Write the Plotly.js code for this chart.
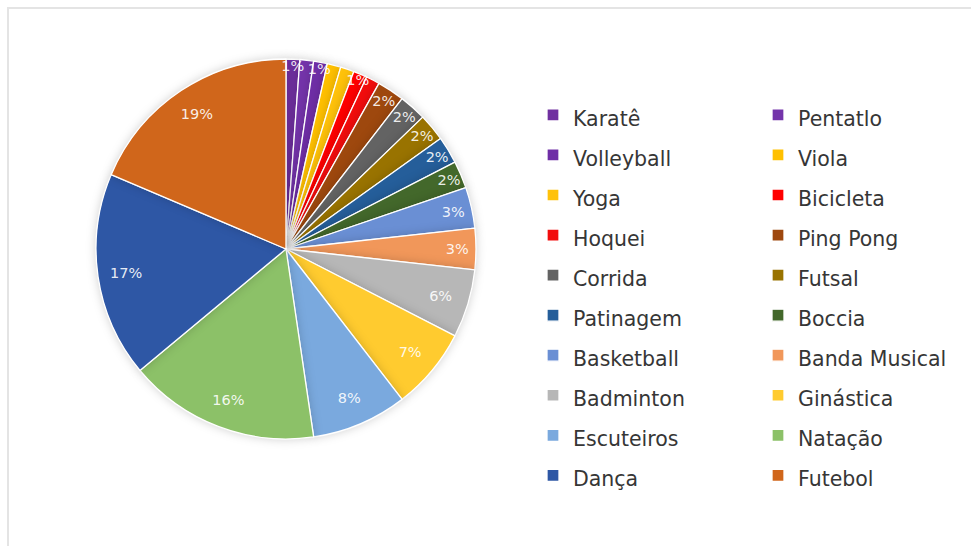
<!DOCTYPE html>
<html>
<head>
<meta charset="utf-8">
<script src="https://cdn.plot.ly/plotly-3.0.1.min.js"></script>
<style>
  html, body { margin: 0; padding: 0; background: #ffffff; }
  #wrap { position: relative; width: 971px; height: 546px; overflow: hidden; }
  #chart { position: absolute; left: 0; top: 0; width: 971px; height: 546px; }
  #frame { position: absolute; left: 7px; top: 7px; width: 1000px; height: 600px;
           border: 2px solid #e4e4e4; pointer-events: none; }
  #chart .pielayer .trace:first-child .slice path.surface { filter: drop-shadow(0 0 5px rgba(0,0,0,0.18)); }
</style>
</head>
<body>
<div id="wrap">
  <div id="chart"></div>
  <div id="frame"></div>
</div>
<script>
// Categories in data order (clockwise from 12 o'clock, legend row by row)
const categories = [
  "Karatê", "Pentatlo", "Volleyball", "Viola", "Yoga", "Bicicleta", "Hoquei",
  "Ping Pong", "Corrida", "Futsal", "Patinagem", "Boccia",
  "Basketball", "Banda Musical", "Badminton", "Ginástica", "Escuteiros",
  "Natação", "Dança", "Futebol"
];
// Counts (total 86)
const counts = [1, 1, 1, 1, 1, 1, 1, 2, 2, 2, 2, 2, 3, 3, 5, 6, 7, 14, 15, 16];
const colors = [
  "#7030A0", "#7434AA", "#6F2EA6", "#FFC000", "#FFC20A", "#FF0000", "#F20D0D",
  "#9E480E", "#636363", "#997300", "#255E9A", "#43682B",
  "#6A8FD4", "#F1975A", "#B7B7B7", "#FFCB2F", "#7AA9DE",
  "#8CC168", "#2E57A5", "#D0661B"
];
// Which slices carry a visible percent label in the reference
const showLabel = [true, false, true, false, false, true, false,
  true, true, true, true, true, true, true, true, true, true, true, true, true];

const total = counts.reduce((a, b) => a + b, 0);
const pctText = counts.map((v, i) => showLabel[i] ? Math.round(v / total * 100) + "%" : "");
const legendLabels = categories.map(c => '<span style="font-size:20.5px">' + c + '</span>');
const clear = counts.map(() => "rgba(0,0,0,0)");

const pieDomain = { x: [0, 1], y: [0.1438, 0.9592] };

// Coloured pie (slices + legend)
const pieTrace = {
  type: "pie",
  labels: legendLabels,
  values: counts,
  textinfo: "none",
  hoverinfo: "label+percent",
  sort: false,
  direction: "clockwise",
  rotation: 0,
  marker: { colors: colors, line: { color: "#ffffff", width: 1.3 } },
  domain: pieDomain
};

// Transparent ring on the same data, carrying the percent labels near the rim
const labelTrace = {
  type: "pie",
  labels: legendLabels,
  values: counts,
  text: pctText,
  textinfo: "text",
  hoverinfo: "skip",
  showlegend: false,
  sort: false,
  direction: "clockwise",
  rotation: 0,
  hole: 0.7,
  textposition: "inside",
  insidetextorientation: "horizontal",
  insidetextfont: { family: "DejaVu Sans, sans-serif", size: 14.5, color: "rgba(255,255,255,0.9)" },
  marker: { colors: clear, line: { width: 0 } },
  domain: pieDomain
};

const layout = {
  width: 971,
  height: 546,
  paper_bgcolor: "rgba(0,0,0,0)",
  plot_bgcolor: "rgba(0,0,0,0)",
  margin: { l: 96, r: 495, t: 40, b: 40, autoexpand: false },
  showlegend: true,
  uniformtext: { mode: "show", minsize: 14.5 },
  legend: {
    orientation: "h",
    x: 1.15,
    xanchor: "left",
    y: 0.893,
    yanchor: "top",
    entrywidth: 180,
    entrywidthmode: "pixels",
    maxheight: 500,
    font: { family: "DejaVu Sans, sans-serif", size: 28.5, color: "#363636" },
    bgcolor: "rgba(0,0,0,0)",
    traceorder: "normal"
  }
};

Plotly.newPlot("chart", [pieTrace, labelTrace], layout, { displayModeBar: false, staticPlot: true });
</script>
</body>
</html>
